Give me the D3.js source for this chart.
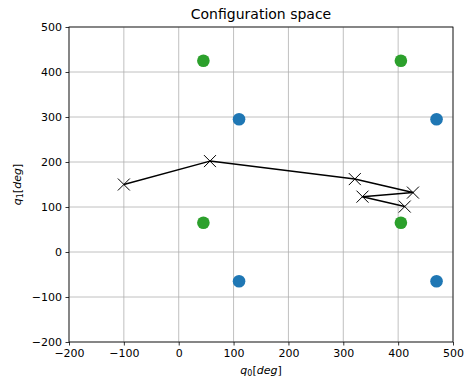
<!DOCTYPE html>
<html>
<head>
<meta charset="utf-8">
<script src="https://cdn.jsdelivr.net/npm/d3@7"></script>
<style>
  html, body { margin: 0; padding: 0; background: #fff; }
  svg { display: block; font-family: "DejaVu Sans", sans-serif; }
</style>
</head>
<body>
<svg id="chart" width="465" height="381"></svg>
<script>
// Tick values for both joint axes (degrees)
const xTicks = [-200, -100, 0, 100, 200, 300, 400, 500];
const yTicks = [-200, -100, 0, 100, 200, 300, 400, 500];

// Obstacle / target points
const blueX = [110, 470, 110, 470];
const blueY = [295, 295, -65, -65];
const greenX = [45, 405, 45, 405];
const greenY = [425, 425, 65, 65];

// Planned path through configuration space
const pathQ0 = [-100, 57, 321, 427, 335, 412];
const pathQ1 = [150, 202, 162, 132, 123, 101];

const svg = d3.select("#chart");
const plotL = 69, plotR = 453, plotT = 27, plotB = 342;

const x = d3.scaleLinear().domain([-200, 500]).range([plotL, plotR]);
const y = d3.scaleLinear().domain([-200, 500]).range([plotB, plotT]);
const fmt = d => d < 0 ? "\u2212" + Math.abs(d) : String(d);

// Grid
const grid = svg.append("g");
grid.selectAll(".gx").data(xTicks).join("line")
  .attr("x1", d => x(d)).attr("x2", d => x(d))
  .attr("y1", plotT).attr("y2", plotB)
  .attr("stroke", "#b0b0b0").attr("stroke-width", 0.8);
grid.selectAll(".gy").data(yTicks).join("line")
  .attr("y1", d => y(d)).attr("y2", d => y(d))
  .attr("x1", plotL).attr("x2", plotR)
  .attr("stroke", "#b0b0b0").attr("stroke-width", 0.8);

// Scatter points
const blue = blueX.map((v, i) => [v, blueY[i]]);
const green = greenX.map((v, i) => [v, greenY[i]]);
svg.append("g").selectAll("circle").data(blue).join("circle")
  .attr("cx", d => x(d[0])).attr("cy", d => y(d[1])).attr("r", 6.3)
  .attr("fill", "#1f77b4");
svg.append("g").selectAll("circle").data(green).join("circle")
  .attr("cx", d => x(d[0])).attr("cy", d => y(d[1])).attr("r", 6.3)
  .attr("fill", "#2ca02c");

// Path line with x markers
const path = pathQ0.map((v, i) => [v, pathQ1[i]]);
svg.append("path")
  .attr("d", d3.line().x(d => x(d[0])).y(d => y(d[1]))(path))
  .attr("fill", "none").attr("stroke", "#000").attr("stroke-width", 1.5)
  .attr("stroke-linejoin", "round");
const m = 6;
svg.append("g").selectAll("path").data(path).join("path")
  .attr("d", d => {
    const cx = x(d[0]), cy = y(d[1]);
    return `M${cx - m},${cy - m}L${cx + m},${cy + m}M${cx - m},${cy + m}L${cx + m},${cy - m}`;
  })
  .attr("stroke", "#000").attr("stroke-width", 1).attr("fill", "none");

// Axes
const xAxis = d3.axisBottom(x).tickValues(xTicks).tickFormat(fmt).tickSize(3.5).tickPadding(3.5);
const yAxis = d3.axisLeft(y).tickValues(yTicks).tickFormat(fmt).tickSize(3.5).tickPadding(3.5);
const gx = svg.append("g").attr("transform", `translate(0,${plotB})`).call(xAxis);
const gy = svg.append("g").attr("transform", `translate(${plotL},0)`).call(yAxis);
[gx, gy].forEach(g => {
  g.select(".domain").remove();
  g.selectAll("text").attr("font-size", 11).attr("fill", "#000")
    .attr("font-family", "DejaVu Sans, sans-serif");
  g.selectAll("line").attr("stroke", "#000").attr("stroke-width", 0.8);
});

// Frame
svg.append("rect").attr("x", plotL).attr("y", plotT)
  .attr("width", plotR - plotL).attr("height", plotB - plotT)
  .attr("fill", "none").attr("stroke", "#000").attr("stroke-width", 0.8);

// Title
svg.append("text").attr("x", (plotL + plotR) / 2).attr("y", 19)
  .attr("text-anchor", "middle").attr("font-size", 14).text("Configuration space");

// Axis labels
const xl = svg.append("text").attr("x", (plotL + plotR) / 2).attr("y", 374)
  .attr("text-anchor", "middle").attr("font-size", 11);
xl.append("tspan").attr("font-style", "italic").text("q");
xl.append("tspan").attr("font-size", 8).attr("dy", 2).text("0");
xl.append("tspan").attr("dy", -2).text("[");
xl.append("tspan").attr("font-style", "italic").text("deg");
xl.append("tspan").text("]");

const yl = svg.append("text")
  .attr("transform", `translate(21,${(plotT + plotB) / 2}) rotate(-90)`)
  .attr("text-anchor", "middle").attr("font-size", 11);
yl.append("tspan").attr("font-style", "italic").text("q");
yl.append("tspan").attr("font-size", 8).attr("dy", 2).text("1");
yl.append("tspan").attr("dy", -2).text("[");
yl.append("tspan").attr("font-style", "italic").text("deg");
yl.append("tspan").text("]");
</script>
</body>
</html>
